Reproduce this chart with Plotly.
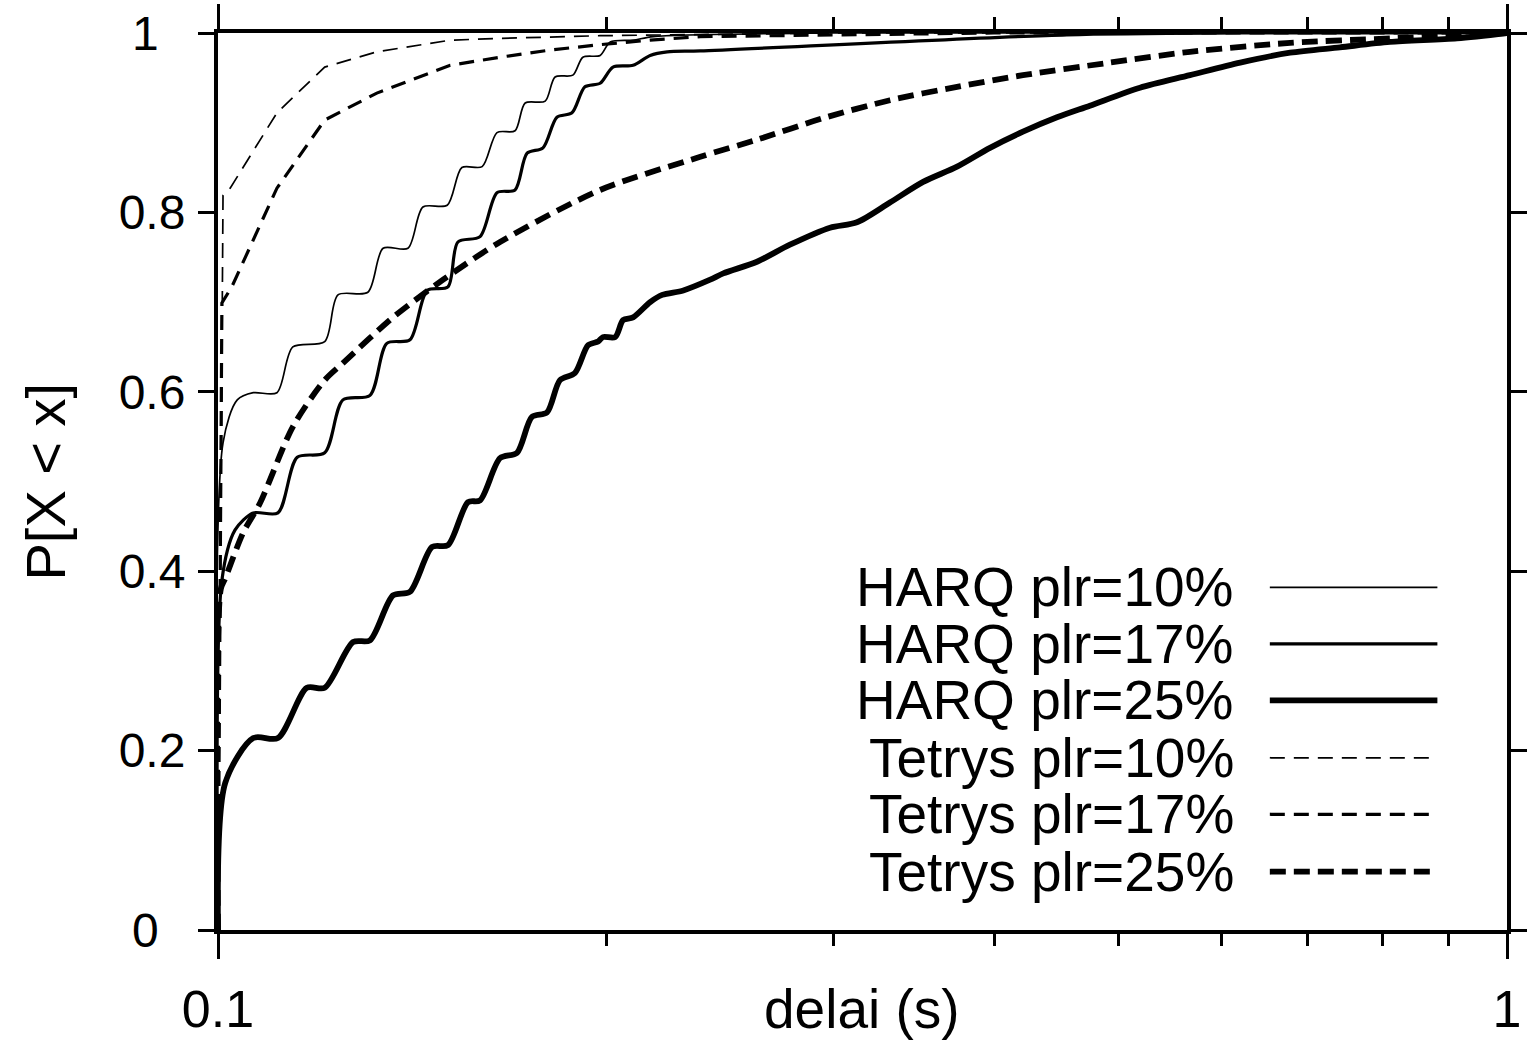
import plotly.graph_objects as go

# ---------------- data (delay in seconds, cumulative probability) ----------------
harq10_x = [0.1, 0.1009, 0.1035, 0.1065, 0.1111, 0.1143, 0.1210, 0.1239, 0.1307, 0.1343,
            0.1404, 0.1442, 0.1506, 0.1546, 0.1603, 0.1646, 0.1700, 0.1731, 0.1794, 0.1826,
            0.1885, 0.1919, 0.1979, 0.2015, 0.2099, 0.2176, 0.30, 1.0]
harq10_y = [0, 0.543, 0.591, 0.599, 0.599, 0.650, 0.656, 0.708, 0.711, 0.760,
            0.760, 0.806, 0.808, 0.850, 0.851, 0.889, 0.891, 0.922, 0.924, 0.951,
            0.953, 0.973, 0.975, 0.990, 0.992, 0.996, 1.0, 1.0]

harq17_x = [0.1, 0.1007, 0.1031, 0.1065, 0.1113, 0.1152, 0.1210, 0.1250, 0.1312, 0.1352,
            0.1409, 0.1453, 0.1508, 0.1535, 0.1597, 0.1646, 0.1700, 0.1737, 0.1787, 0.1832,
            0.1882, 0.1926, 0.1979, 0.2025, 0.2099, 0.2164, 0.2231, 0.2367, 0.4556, 0.62, 1.0]
harq17_y = [0, 0.390, 0.446, 0.465, 0.465, 0.527, 0.532, 0.591, 0.596, 0.654,
            0.658, 0.713, 0.717, 0.767, 0.773, 0.822, 0.825, 0.866, 0.872, 0.906,
            0.911, 0.940, 0.944, 0.962, 0.964, 0.975, 0.979, 0.980, 0.998, 1.0, 1.0]

harq25_x = [0.1, 0.1013, 0.1065, 0.1113, 0.1172, 0.1210, 0.1273, 0.1312, 0.1367, 0.1409,
            0.1466, 0.1508, 0.1563, 0.1597, 0.1655, 0.1706, 0.1752, 0.1800, 0.1842, 0.1892,
            0.1937, 0.1972, 0.1989, 0.2033, 0.2062, 0.2099, 0.2164, 0.2211, 0.2296, 0.2409,
            0.2466, 0.2619, 0.2778, 0.2984, 0.3131, 0.3321, 0.3524, 0.3744, 0.3971, 0.4212,
            0.4476, 0.4747, 0.5191, 0.5676, 0.6209, 0.6788, 0.7420, 0.8112, 0.9145, 1.0]
harq25_y = [0, 0.164, 0.214, 0.214, 0.270, 0.270, 0.321, 0.323, 0.373, 0.377,
            0.427, 0.429, 0.477, 0.479, 0.526, 0.532, 0.572, 0.577, 0.613, 0.621,
            0.652, 0.656, 0.661, 0.661, 0.680, 0.683, 0.700, 0.708, 0.713, 0.725,
            0.732, 0.745, 0.764, 0.783, 0.789, 0.811, 0.834, 0.851, 0.872, 0.890,
            0.906, 0.919, 0.939, 0.953, 0.967, 0.978, 0.984, 0.990, 0.994, 1.0]

tetrys10_x = [0.1, 0.1009, 0.1022, 0.1111, 0.1210, 0.1328, 0.1514, 0.1655, 0.1979, 0.30, 1.0]
tetrys10_y = [0, 0.819, 0.827, 0.911, 0.962, 0.979, 0.992, 0.994, 0.997, 1.0, 1.0]

tetrys17_x = [0.1, 0.1007, 0.1025, 0.1111, 0.1210, 0.1328, 0.1514, 0.1655, 0.1810, 0.1979,
              0.2164, 0.2367, 0.40, 1.0]
tetrys17_y = [0, 0.699, 0.717, 0.827, 0.903, 0.933, 0.964, 0.973, 0.981, 0.987,
              0.992, 0.996, 1.0, 1.0]

tetrys25_x = [0.1, 0.1005, 0.1013, 0.1046, 0.1078, 0.1143, 0.1210, 0.1250, 0.1367, 0.1495,
              0.1655, 0.1979, 0.2367, 0.2619, 0.2947, 0.3321, 0.3744, 0.4212, 0.4920, 0.5676,
              0.6788, 0.8112, 1.0]
tetrys25_y = [0, 0.380, 0.392, 0.443, 0.476, 0.561, 0.613, 0.632, 0.683, 0.725,
              0.767, 0.825, 0.862, 0.881, 0.905, 0.925, 0.940, 0.953, 0.967, 0.979,
              0.989, 0.994, 1.0]

series_names = ["HARQ plr=10%", "HARQ plr=17%", "HARQ plr=25%",
                "Tetrys plr=10%", "Tetrys plr=17%", "Tetrys plr=25%"]
y_tick_vals = [0, 0.2, 0.4, 0.6, 0.8, 1]
y_tick_text = ["0\u00a0\u00a0", "0.2", "0.4", "0.6", "0.8", "1\u00a0\u00a0"]
x_tick_vals = [0.1, 1]
x_tick_text = ["0.1", "1"]
x_minor_vals = [0.2, 0.3, 0.4, 0.5, 0.6, 0.7, 0.8, 0.9]

# ---------------- styles ----------------
FONT = "Liberation Sans Narrow, Arial Narrow, Liberation Sans, Arial, sans-serif"
styles = [
    dict(width=1.7, dash="solid", shape="spline"),
    dict(width=3.2, dash="solid", shape="spline"),
    dict(width=5.8, dash="solid", shape="spline"),
    dict(width=1.7, dash="15px,9px", shape="linear"),
    dict(width=3.2, dash="15px,9px", shape="linear"),
    dict(width=5.8, dash="16px,8px", shape="spline"),
]
data = [(harq10_x, harq10_y), (harq17_x, harq17_y), (harq25_x, harq25_y),
        (tetrys10_x, tetrys10_y), (tetrys17_x, tetrys17_y), (tetrys25_x, tetrys25_y)]

fig = go.Figure()
for (xs, ys), st, nm in zip(data, styles, series_names):
    line = dict(color="black", width=st["width"], dash=st["dash"], shape=st["shape"])
    if st["shape"] == "spline":
        line["smoothing"] = 0.8
    fig.add_trace(go.Scatter(x=xs, y=ys, mode="lines", name=nm, line=line,
                             showlegend=False, hoverinfo="skip"))

# invisible helper trace so the top (mirrored) x axis with minor ticks is drawn
fig.add_trace(go.Scatter(x=x_tick_vals, y=[0, 0], xaxis="x2", mode="lines",
                         line=dict(width=0), opacity=0, showlegend=False, hoverinfo="skip"))

# ---------------- manual legend (text left, sample right) ----------------
leg_y = [0.382, 0.319, 0.256, 0.192, 0.129, 0.065]
for nm, st, yy in zip(series_names, styles, leg_y):
    fig.add_annotation(x=0.790, y=yy, xref="paper", yref="paper", text=nm,
                       showarrow=False, xanchor="right", yanchor="middle",
                       font=dict(family=FONT, size=55, color="black"))
    fig.add_shape(type="line", xref="paper", yref="paper", x0=0.816, x1=0.946,
                  y0=yy, y1=yy, line=dict(color="black", width=st["width"], dash=st["dash"]))

# axis titles
fig.add_annotation(x=0.4996, y=-0.088, xref="paper", yref="paper", text="delai (s)",
                   showarrow=False, xanchor="center", yanchor="middle",
                   font=dict(family=FONT, size=55, color="black"))
fig.add_annotation(x=-0.1342, y=0.5, xref="paper", yref="paper", text="P[X < x]",
                   showarrow=False, xanchor="center", yanchor="middle", textangle=-90,
                   font=dict(family=FONT, size=56, color="black"))

axis_common = dict(showline=True, linecolor="black", linewidth=4, ticks="outside",
                   tickcolor="black", showgrid=False, zeroline=False, automargin=False)

fig.update_layout(
    xaxis=dict(type="log", range=[-1, 0], mirror=True, ticklen=25, tickwidth=3,
               tickvals=x_tick_vals, ticktext=x_tick_text, ticklabelstandoff=6,
               tickfont=dict(family=FONT, size=52, color="black"),
               minor=dict(tickvals=x_minor_vals, ticks="outside", ticklen=12,
                          tickwidth=3, tickcolor="black", showgrid=False),
               **axis_common),
    xaxis2=dict(type="log", range=[-1, 0], overlaying="x", side="top", matches="x",
                ticklen=25, tickwidth=3, tickvals=x_tick_vals, showticklabels=False,
                minor=dict(tickvals=x_minor_vals, ticks="outside", ticklen=12,
                           tickwidth=3, tickcolor="black", showgrid=False),
                **axis_common),
    yaxis=dict(range=[0, 1], mirror="ticks", ticklen=16, tickwidth=3,
               tickvals=y_tick_vals, ticktext=y_tick_text, ticklabelstandoff=3,
               tickfont=dict(family=FONT, size=48, color="black"),
               **axis_common),
    width=1529, height=1043, plot_bgcolor="white", paper_bgcolor="white",
    margin=dict(l=218, r=22, t=33, b=113, autoexpand=False), showlegend=False,
)

fig.write_html("out.html")
